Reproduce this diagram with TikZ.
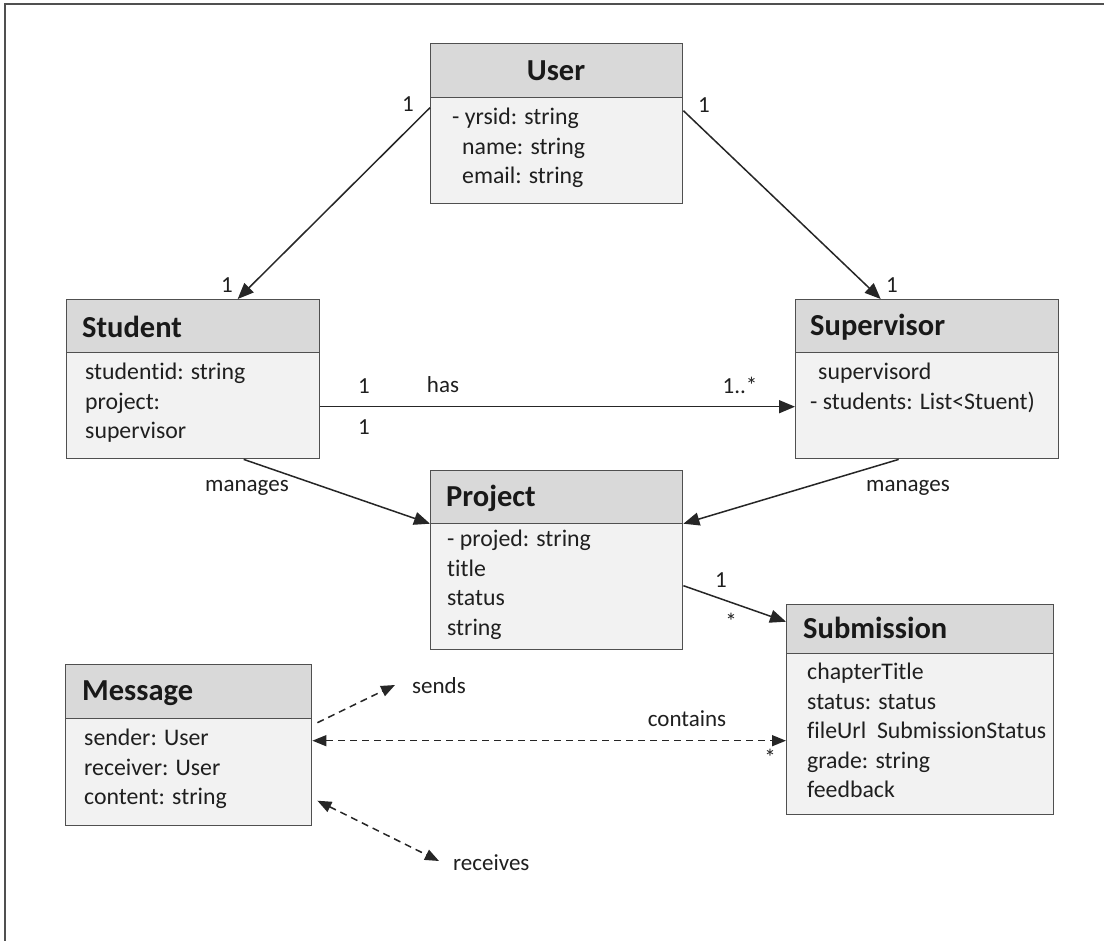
\documentclass[tikz,border=0pt]{standalone}
\usepackage{fontspec}
\setmainfont{Carlito}[Ligatures=NoCommon]
\usetikzlibrary{arrows.meta}
\definecolor{hdrfill}{HTML}{D9D9D9}
\definecolor{bodyfill}{HTML}{F2F2F2}
\definecolor{edgecol}{HTML}{505050}
\tikzset{
  classbox/.style={draw=edgecol, line width=1.4pt, fill=bodyfill, inner sep=0pt, anchor=north west},
  hdrbox/.style={draw=edgecol, line width=1.4pt, fill=hdrfill, inner sep=0pt, anchor=north west},
  title/.style={font=\fontsize{30.5}{33}\selectfont\bfseries, anchor=west, inner sep=0pt, text=black!90},
  attr/.style={font=\fontsize{23.8}{29.5}\selectfont, anchor=north west, inner sep=0pt, align=left, text=black!88},
  lbl/.style={font=\fontsize{23}{26}\selectfont, inner sep=0pt, text=black!88},
  conn/.style={line width=1.5pt, draw=black!85, -{Triangle[length=16pt,width=13pt]}},
  dconn/.style={line width=1.5pt, draw=black!85, dash pattern=on 7pt off 5pt}
}
\begin{document}
\begin{tikzpicture}[x=1pt,y=-1pt]
\useasboundingbox (0,0) rectangle (1104,941);
\fill[white] (0,0) rectangle (1104,941);
\draw[edgecol, line width=1.4pt] (5,945) -- (5,4) -- (1110,4);

% User
\node[classbox, minimum width=252pt, minimum height=160pt] (user) at (430,43) {};
\node[hdrbox, minimum width=252pt, minimum height=54pt] (userH) at (430,43) {};
\node[title, anchor=center] (userT) at (556,71) {User};
\node[attr] (userA) at (452,108) {- yrsid: string\\\hspace*{10pt}name: string\\\hspace*{10pt}email: string};

% Student
\node[classbox, minimum width=253pt, minimum height=159pt] (student) at (66,299) {};
\node[hdrbox, minimum width=253pt, minimum height=53pt] (studentH) at (66,299) {};
\node[title] (studentT) at (82,327) {Student};
\node[attr] (studentA) at (85,363) {studentid: string\\project:\\supervisor};

% Supervisor
\node[classbox, minimum width=263pt, minimum height=159pt] (supervisor) at (795,299) {};
\node[hdrbox, minimum width=263pt, minimum height=53pt] (supervisorH) at (795,299) {};
\node[title] (supervisorT) at (810,327) {Supervisor};
\node[attr] (supervisorA) at (810,363) {\hspace*{8pt}supervisord\\- students: List<Stuent)};

% Project
\node[classbox, minimum width=252pt, minimum height=179pt] (project) at (430,470) {};
\node[hdrbox, minimum width=252pt, minimum height=53pt] (projectH) at (430,470) {};
\node[title] (projectT) at (446,498) {Project};
\node[attr] (projectA) at (447,530) {- projed: string\\title\\status\\string};

% Submission
\node[classbox, minimum width=267pt, minimum height=210pt] (submission) at (786,604) {};
\node[hdrbox, minimum width=267pt, minimum height=49pt] (submissionH) at (786,604) {};
\node[title] (submissionT) at (803,628) {Submission};
\node[attr] (submissionA) at (807,663) {chapterTitle\\status: status\\fileUrl\ \ SubmissionStatus\\grade: string\\feedback};

% Message
\node[classbox, minimum width=246pt, minimum height=161pt] (message) at (65,664) {};
\node[hdrbox, minimum width=246pt, minimum height=54pt] (messageH) at (65,664) {};
\node[title] (messageT) at (82,693) {Message};
\node[attr] (messageA) at (84,729) {sender: User\\receiver: User\\content: string};

% solid connectors
\draw[conn] ([yshift=16pt]user.west) -- ([xshift=44.5pt]student.north);
\draw[conn] ([yshift=13pt]user.east) -- ([xshift=-46.5pt]supervisor.north);
\draw[conn] ([yshift=-27.5pt]student.east) -- ([yshift=-27.5pt]supervisor.west);
\draw[conn] ([xshift=50.5pt]student.south) -- ([yshift=36.5pt]project.west);
\draw[conn] ([xshift=-28.5pt]supervisor.south) -- ([yshift=36.5pt]project.east);
\draw[conn] ([yshift=-25.5pt]project.east) -- ([yshift=88pt]submission.west);

% labels
\node[lbl] (l1) at (408,104) {1};
\node[lbl] (l2) at (227,285) {1};
\node[lbl] (l3) at (704,105) {1};
\node[lbl] (l4) at (892,285) {1};
\node[lbl] (l5) at (364,386) {1};
\node[lbl] (l6) at (443,385) {has};
\node[lbl] (l7) at (364,427) {1};
\node[lbl] (l8) at (740,385) {1..*};
\node[lbl] (l9) at (247,488) {manages};
\node[lbl] (l10) at (908,488) {manages};
\node[lbl] (l11) at (721,580) {1};
\node[lbl] (l12) at (731,621) {*};
\node[lbl] (l13) at (687,719) {contains};
\node[lbl] (l14) at (770,757) {*};
\node[lbl, anchor=west] (sends) at (412,686) {sends};
\node[lbl, anchor=west] (receives) at (453,863) {receives};

% dashed connectors
\draw[dconn, -{Triangle[length=14pt,width=11pt]}] ([xshift=5pt,yshift=22.5pt]message.east) -- ([xshift=-17pt,yshift=1pt]sends.west);
\draw[dconn, {Triangle[length=14pt,width=11pt]}-{Triangle[length=14pt,width=11pt]}] ([yshift=4.5pt]message.east) -- ([yshift=-31pt]submission.west);
\draw[dconn, {Triangle[length=14pt,width=11pt]}-{Triangle[length=14pt,width=11pt]}] ([xshift=5pt,yshift=-55.5pt]message.east) -- ([xshift=-14pt,yshift=2pt]receives.west);
\end{tikzpicture}
\end{document}
